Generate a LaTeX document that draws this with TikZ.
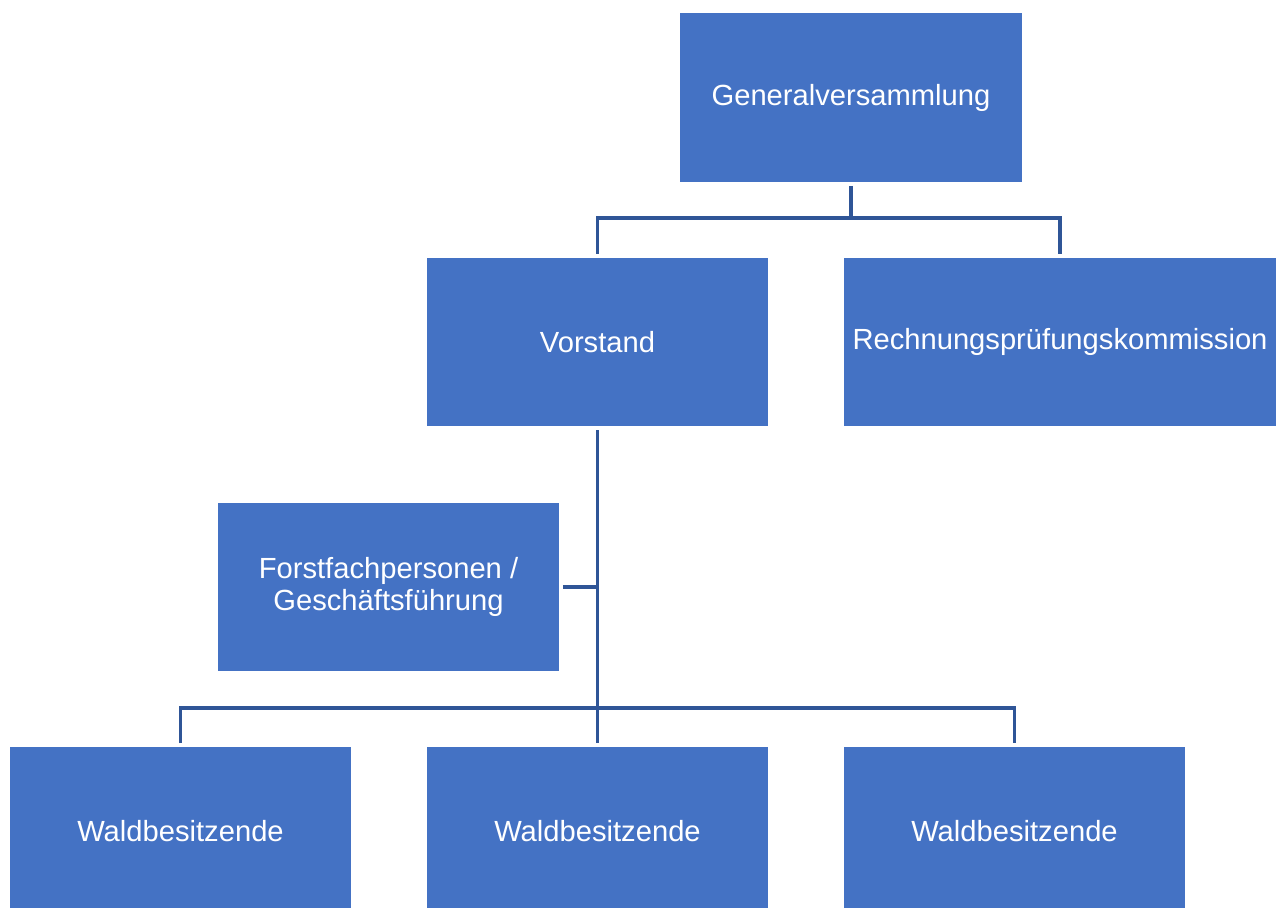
\documentclass[tikz,border=0pt]{standalone}
\usepackage{fontspec}
\setmainfont{Liberation Sans}
\definecolor{boxblue}{RGB}{68,114,196}
\definecolor{lineblue}{RGB}{47,85,151}

\begin{document}
\begin{tikzpicture}[x = .02cm, y = -.02cm,
  box/.style = {fill = boxblue, text = white, inner sep = 0, outer sep = 2.2pt,
    minimum width = 6.82cm, minimum height = 3.38cm, align = center,
    font = \fontsize{16.6}{18}\selectfont},
  link/.style = {draw = lineblue, line width = 1.9pt}]
\useasboundingbox (0, 0) rectangle (1282, 908);

\node [box, minimum width = 6.84cm] (gv) at (851, 97.5) {Generalversammlung};
\node [box] (vor) at (597.5, 342) {Vorstand};
\node [box, minimum width = 8.64cm] (rpk) at (1060, 342) {Rechnungsprüfungskommission};
\node [box] (ff) at (388.5, 587) {Forstfachpersonen /\\Geschäftsführung};
\foreach \i/\x in {1/180.5, 2/597.5, 3/1014.5}
  \node [box] (w\i) at (\x, 831.5) {Waldbesitzende};

\coordinate (bus1) at (0, 218);
\coordinate (bus2) at (0, 708);

\draw [link] (gv.south) -- (gv.south |- bus1);
\draw [link] (vor.north) |- (bus1 -| gv.south) -| (rpk.north);

\draw [link] (vor.south) -- (vor.south |- bus2);
\draw [link] (ff.east) -- (ff.east -| vor.south);
\draw [link] (w1.north) |- (bus2 -| vor.south) -| (w3.north);
\draw [link] (w2.north) -- (w2.north |- bus2);
\end{tikzpicture}
\end{document}
